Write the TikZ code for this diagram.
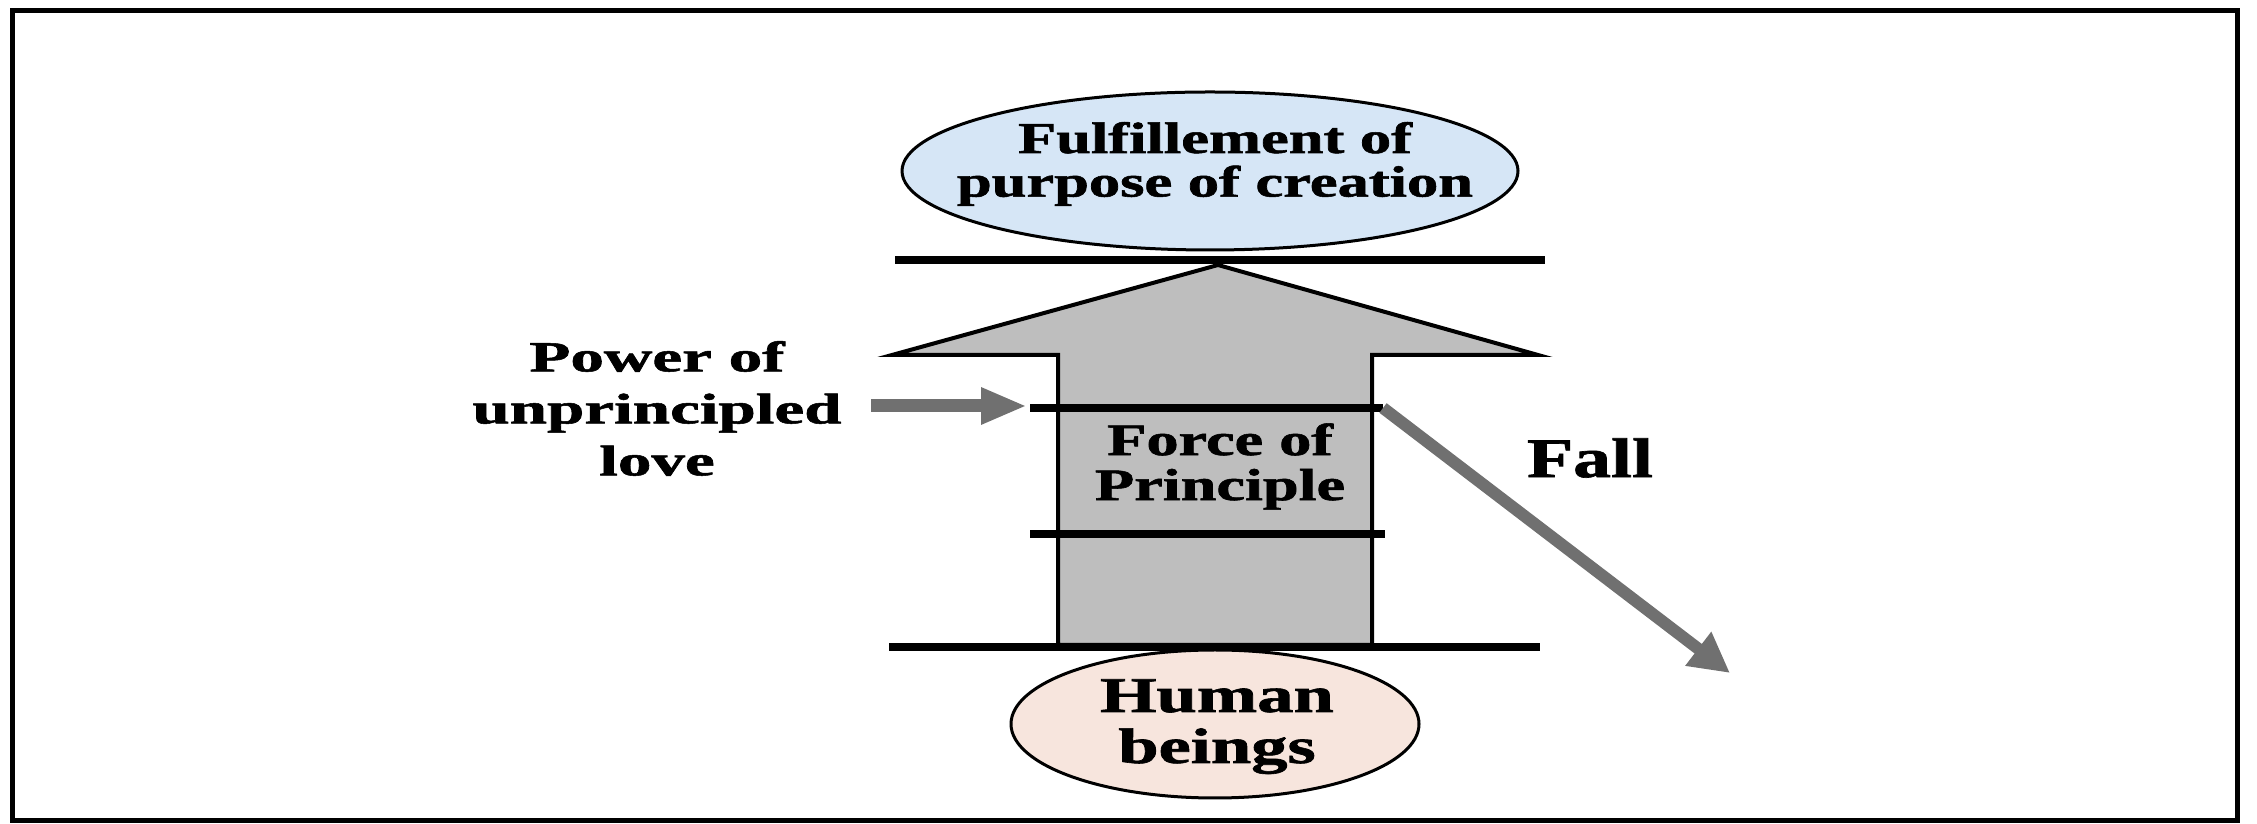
\documentclass[tikz,border=0pt]{standalone}
\usepackage{fontspec}
\setmainfont{Liberation Serif}[BoldFeatures={FakeBold=1.2}]
\usetikzlibrary{shapes.geometric,arrows.meta}
\definecolor{skyfill}{RGB}{214,230,246}
\definecolor{pinkfill}{RGB}{247,229,221}
\definecolor{shaftgray}{RGB}{190,190,190}
\definecolor{pushgray}{RGB}{112,112,112}
\newcommand\rows[2]{\scalebox{#1}[1]{\begin{tabular}{@{}c@{}}#2\end{tabular}}}
\begin{document}
\begin{tikzpicture}[x=1pt,y=1pt,
  barline/.style={line width=8pt},
  bubble/.style={ellipse, draw=black, line width=3pt, inner sep=0pt},
  lbl/.style={inner sep=0pt, align=center},
  push/.style={draw=pushgray, line width=13pt, -{Triangle[length=46pt,width=34pt]}},
  fallarrow/.style={draw=pushgray, line width=12pt, -{Triangle[length=40pt,width=40pt]}}]
\useasboundingbox (0,0) rectangle (2257,824);
\draw[line width=5pt] (12.5,813.5) rectangle (2237,3);
% big arrow
\filldraw[fill=shaftgray, draw=black, line width=4pt, line join=miter]
  (1218,559) -- (1538,469) -- (1372,469) -- (1372,179) -- (1058,179) -- (1058,469) -- (892,469) -- cycle;
% coordinates
\coordinate (topL) at (895,564);   \coordinate (topR) at (1545,564);
\coordinate (aL) at (1030,416);    \coordinate (aR) at (1383,416);
\coordinate (bL) at (1030,290);    \coordinate (bR) at (1385,290);
\coordinate (botL) at (889,177);   \coordinate (botR) at (1540,177);
\coordinate (pushS) at (871,418);  \coordinate (pushE) at (1027,418);
\coordinate (fallE) at (1730,151);
\draw[barline] (topL) -- (topR);
\draw[barline] (aL) -- (aR);
\draw[barline] (bL) -- (bR);
\draw[barline] (botL) -- (botR);
% ellipses
\node[bubble, fill=skyfill, minimum width=616pt, minimum height=158pt] (goal) at (1210,653) {};
\node[lbl, font=\fontsize{44}{42}\selectfont\bfseries] (goaltext) at (1215,658.4) {\rows{1.42}{Fulfillement of\\purpose of creation}};
\node[bubble, fill=pinkfill, minimum width=408pt, minimum height=148pt] (human) at (1215,100) {};
\node[lbl, font=\fontsize{50}{51}\selectfont\bfseries] (humantext) at (1217,96.7) {\rows{1.45}{Human\\beings}};
% labels
\node[lbl, font=\fontsize{43}{52}\selectfont\bfseries] (power) at (657,411) {\rows{1.56}{Power of\\unprincipled\\love}};
\node[lbl, font=\fontsize{45}{45}\selectfont\bfseries] (force) at (1220,355.5) {\rows{1.43}{Force of\\Principle}};
\node[lbl, font=\fontsize{56}{56}\selectfont\bfseries] (fall) at (1590,366) {\scalebox{1.35}[1]{Fall}};
% arrows
\draw[push] (pushS) -- (pushE);
\draw[fallarrow] (aR) -- (fallE);
\end{tikzpicture}
\end{document}
